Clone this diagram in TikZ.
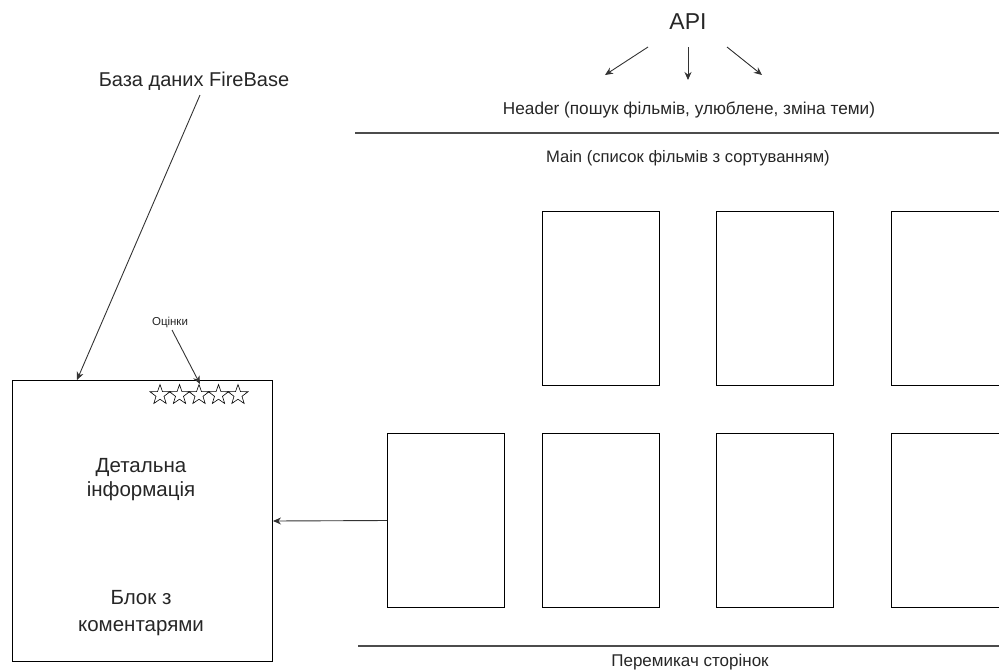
\documentclass[tikz,border=0pt]{standalone}
\usepackage{fontspec}
\setmainfont{Liberation Sans}
\usetikzlibrary{arrows.meta,shapes.geometric}
\begin{document}
\begin{tikzpicture}[x=1pt,y=-1pt,
  lbl/.style={inner sep=0pt, text=black!85, align=center},
  card/.style={draw, line width=1pt, minimum width=117pt, minimum height=174pt, anchor=north west, inner sep=0pt},
  conn/.style={line width=0.9pt, draw=black!80, -{Stealth[length=8pt,width=7pt]}},
  rulel/.style={line width=1.2pt, draw=black!70},
  st/.style={star, star points=5, star point ratio=2.5, draw, line width=0.6pt, minimum size=21pt, inner sep=0pt}]
\useasboundingbox (0,0) rectangle (999,670);
\clip (0,0) rectangle (999,670);
% top
\node[lbl, font=\fontsize{23}{27}\selectfont] (api) at (688,22) {API};
\coordinate (a1s) at (648,47); \coordinate (a1e) at (605,75);
\coordinate (a2s) at (688,47); \coordinate (a2e) at (688,80);
\coordinate (a3s) at (727,47); \coordinate (a3e) at (762,75);
\draw[conn] (a1s) -- (a1e);
\draw[conn] (a2s) -- (a2e);
\draw[conn] (a3s) -- (a3e);
\node[lbl, font=\fontsize{17.2}{20}\selectfont] (hdr) at (689,110) {Header (пошук фільмів, улюблене, зміна теми)};
\coordinate (h1) at (355,133); \coordinate (h2) at (1000,133);
\draw[rulel] (h1) -- (h2);
\node[lbl, font=\fontsize{16.6}{20}\selectfont] (mn) at (688,158) {Main (список фільмів з сортуванням)};
% cards
\node[card] (c12) at (542,211) {};
\node[card] (c13) at (716,211) {};
\node[card] (c14) at (891,211) {};
\node[card] (c21) at (387,433) {};
\node[card] (c22) at (542,433) {};
\node[card] (c23) at (716,433) {};
\node[card] (c24) at (891,433) {};
\coordinate (b1) at (358,646); \coordinate (b2) at (1000,646);
\draw[rulel] (b1) -- (b2);
\node[lbl, font=\fontsize{17}{20}\selectfont] (pg) at (690,662) {Перемикач сторінок};
% detail
\node[draw, line width=1pt, minimum width=260pt, minimum height=281pt, anchor=north west, inner sep=0pt] (det) at (12,380) {};
\node[lbl, font=\fontsize{20.5}{24}\selectfont] (dinfo) at (141,480) {Детальна\\інформація};
\node[lbl, font=\fontsize{20.5}{27}\selectfont] (dcom) at (141,613) {Блок з\\коментарями};
\draw[conn] (c21.west) -- (det.east);
% firebase
\node[lbl, font=\fontsize{20}{24}\selectfont] (fb) at (194,81) {База даних FireBase};
\coordinate (fbs) at (200,95); \coordinate (fbe) at (77,380);
\draw[conn] (fbs) -- (fbe);
% ratings
\foreach \i/\x in {1/160,2/179.5,3/199,4/218.5,5/238}{
  \node[st] (s\i) at (\x,395) {};
}
\node[lbl, font=\fontsize{11.5}{13}\selectfont] (oc) at (170,322) {Оцінки};
\coordinate (ocs) at (172,330); \coordinate (oce) at (200,384);
\draw[conn] (ocs) -- (oce);
\end{tikzpicture}
\end{document}
